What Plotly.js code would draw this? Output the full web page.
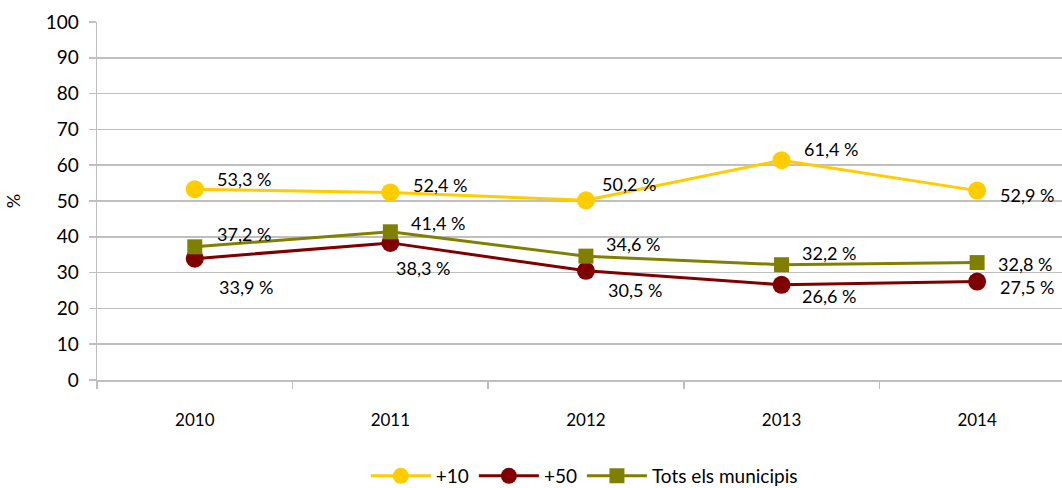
<!DOCTYPE html>
<html>
<head>
<meta charset="utf-8">
<script src="https://cdn.plot.ly/plotly-3.0.1.min.js"></script>
<style>
html,body{margin:0;padding:0;background:#fff;overflow:hidden;}
#chart{width:1062px;height:488px;}
</style>
</head>
<body>
<div id="chart"></div>
<script>
const years = ["2010", "2011", "2012", "2013", "2014"];
const seriesNames = ["+10", "+50", "Tots els municipis"];
const plus10 = [53.3, 52.4, 50.2, 61.4, 52.9];
const plus50 = [33.9, 38.3, 30.5, 26.6, 27.5];
const tots = [37.2, 41.4, 34.6, 32.2, 32.8];
const yTickVals = [0, 10, 20, 30, 40, 50, 60, 70, 80, 90, 100];
const yTitle = "%";

const colors = ["#FFCC00", "#800000", "#808000"];
const FONT = "Lato, 'Open Sans', sans-serif";

function fmt(v) { return v.toFixed(1).replace(".", ",") + " %"; }

const traces = [
  {x: years, y: plus10, name: seriesNames[0], mode: "lines+markers",
   line: {color: colors[0], width: 3}, marker: {symbol: "circle", size: 18, color: colors[0]}},
  {x: years, y: plus50, name: seriesNames[1], mode: "lines+markers",
   line: {color: colors[1], width: 3}, marker: {symbol: "circle", size: 18, color: colors[1]}},
  {x: years, y: tots, name: seriesNames[2], mode: "lines+markers",
   line: {color: colors[2], width: 3}, marker: {symbol: "square", size: 15, color: colors[2]}}
];

// label offsets (pixels) per series per point: [right, down]
const offsets = [
  [[20,-10],[21,-7],[14,-16],[20,-11],[21,4]],
  [[22,28],[4,25],[20,19],[18,11],[21,5]],
  [[20,-13],[19,-9],[18,-12],[18,-12],[19,1]]
];
const allSeries = [plus10, plus50, tots];
const annotations = [];
allSeries.forEach((s, si) => {
  s.forEach((v, i) => {
    annotations.push({
      x: i, y: v, xref: "x", yref: "y", text: fmt(v), showarrow: false,
      xanchor: "left", yanchor: "middle",
      xshift: offsets[si][i][0], yshift: -offsets[si][i][1],
      font: {family: FONT, size: 18, color: "#000"}
    });
  });
});

const layout = {
  width: 1062, height: 488,
  margin: {l: 97, r: 0, t: 22, b: 108, autoexpand: false},
  paper_bgcolor: "#fff", plot_bgcolor: "#fff",
  font: {family: FONT, size: 17, color: "#000"},
  showlegend: true,
  hovermode: false,
  xaxis: {
    type: "category", range: [-0.5, 4.434], tickson: "boundaries",
    ticks: "outside", ticklen: 7, tickcolor: "#BFBFBF", tickwidth: 1.5,
    showgrid: false, showline: true, linecolor: "#BFBFBF", linewidth: 1.5,
    tickfont: {family: FONT, size: 17, color: "#000"}, ticklabelstandoff: 24,
    zeroline: false, automargin: false
  },
  yaxis: {
    range: [0, 100], tickvals: yTickVals, ticks: "outside", ticklen: 7,
    tickcolor: "#BFBFBF", tickwidth: 1.5,
    showgrid: true, gridcolor: "#BFBFBF", gridwidth: 1.5,
    showline: true, linecolor: "#BFBFBF", linewidth: 1.5, zeroline: false,
    tickfont: {family: FONT, size: 19, color: "#000"}, ticklabelstandoff: 6,
    automargin: false,
    title: {text: yTitle, font: {family: FONT, size: 18, color: "#000"}, standoff: 20}
  },
  legend: {
    orientation: "h", x: 0.505, xanchor: "center", y: -0.268, yanchor: "middle",
    font: {family: FONT, size: 19, color: "#000"}, itemwidth: 60, traceorder: "normal"
  },
  annotations: annotations
};

Plotly.newPlot("chart", traces, layout, {displayModeBar: false, staticPlot: true});
</script>
</body>
</html>
